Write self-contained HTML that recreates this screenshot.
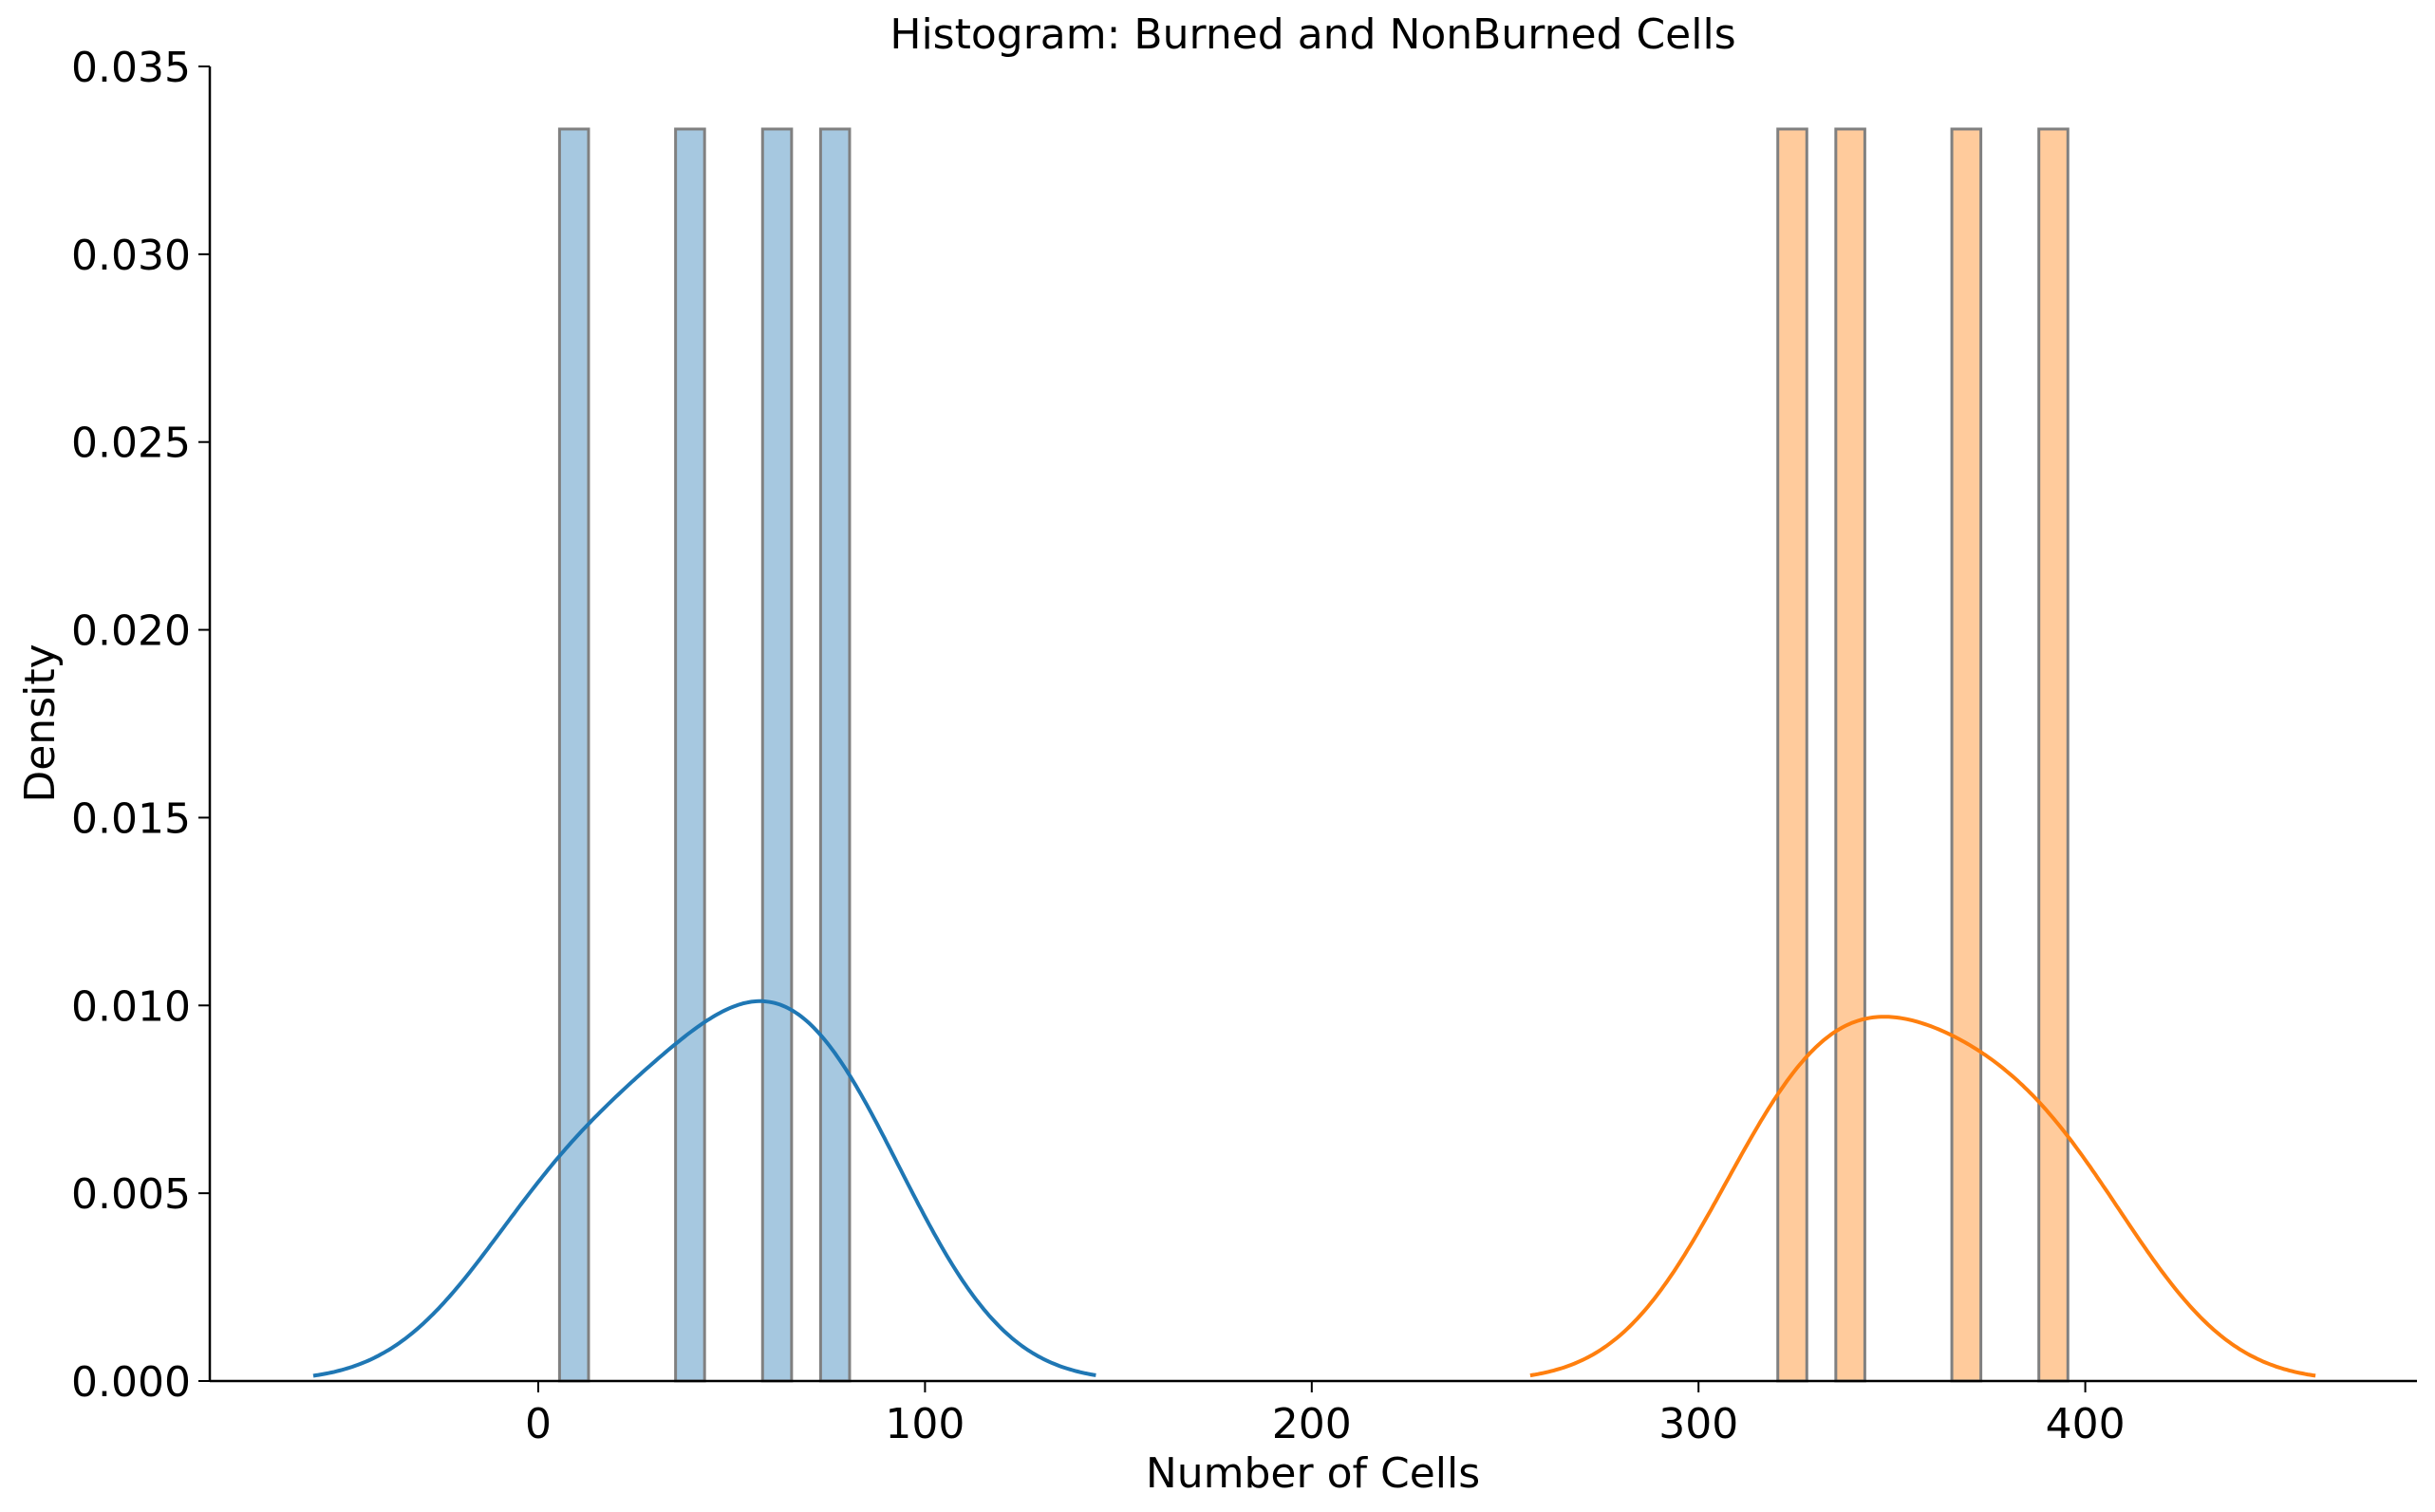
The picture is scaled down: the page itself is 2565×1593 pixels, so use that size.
<!DOCTYPE html>
<html><head><meta charset="utf-8"><style>
body{margin:0;background:#fff}
svg{display:block;font-family:"DejaVu Sans","Liberation Sans",sans-serif}
</style></head><body>
<svg id="chart" width="2565" height="1593" viewBox="0 0 2565 1593" xmlns="http://www.w3.org/2000/svg">
<rect width="2565" height="1593" fill="#fff"/>
<text x="1383" y="51" font-size="44" text-anchor="middle">Histogram: Burned and NonBurned Cells</text>
<text transform="translate(57,762) rotate(-90)" font-size="44" text-anchor="middle">Density</text>
<text x="1383" y="1567" font-size="44" text-anchor="middle">Number of Cells</text>
<g id="plot"></g>
</svg>
<script>
const burnedValues=[5.5,39,62,80.5];
const nonBurnedValues=[320.5,341,367,395.5];
const xTicks=[0,100,200,300,400];
const yTicks=[0,0.005,0.010,0.015,0.020,0.025,0.030,0.035];
const yTickLabels=["0.000","0.005","0.010","0.015","0.020","0.025","0.030","0.035"];
const NS="http://www.w3.org/2000/svg";
const L=221,R=2546,T=70,B=1455;
function sx(v){return 567+v*4.074;}
function sy(v){return B-(v/0.035)*(B-T);}
const g=document.getElementById('plot');
function mk(tag,attrs){const e=document.createElementNS(NS,tag);for(const k in attrs)e.setAttribute(k,attrs[k]);g.appendChild(e);return e;}
function drawSeries(vals,fill,line,prefix){
  const n=vals.length,mn=Math.min(...vals),mx=Math.max(...vals),nb=10,w=(mx-mn)/nb;
  const counts=new Array(nb).fill(0);
  vals.forEach(v=>{let i=Math.floor((v-mn)/w);if(i>=nb)i=nb-1;counts[i]++;});
  counts.forEach((c,i)=>{if(!c)return;const d=c/(n*w);
    const r=mk('rect',{x:sx(mn+i*w),y:sy(d),width:sx(mn+(i+1)*w)-sx(mn+i*w),height:sy(0)-sy(d),fill:fill,stroke:'#808080','stroke-width':3});
    
    
  });
  const mean=vals.reduce((a,b)=>a+b,0)/n;
  const sd=Math.sqrt(vals.reduce((a,b)=>a+(b-mean)**2,0)/(n-1));
  const bw=sd*Math.pow(n,-0.2);
  const a=mn-2.6*bw,b=mx+2.6*bw;let d='';
  for(let k=0;k<=300;k++){const x=a+(b-a)*k/300;let y=0;
    vals.forEach(v=>{y+=Math.exp(-0.5*((x-v)/bw)**2)/(bw*Math.sqrt(2*Math.PI));});y/=n;
    d+=(k?'L':'M')+sx(x).toFixed(1)+','+sy(y).toFixed(1);}
  const p=mk('path',{d:d,fill:'none',stroke:line,'stroke-width':4});
  
  
}
drawSeries(burnedValues,'#a6c8e0','#1f77b4','burned');
drawSeries(nonBurnedValues,'#ffcb9c','#ff7f0e','nonburned');
const ya=mk('line',{x1:L,y1:T,x2:L,y2:B,stroke:'#000','stroke-width':2.5});


const xa=mk('line',{x1:L,y1:B,x2:R,y2:B,stroke:'#000','stroke-width':2.5});


xTicks.forEach(v=>{
  mk('line',{x1:sx(v),y1:B,x2:sx(v),y2:B+12,stroke:'#000','stroke-width':2});
  const t=mk('text',{x:sx(v),y:B+60,'font-size':44,'text-anchor':'middle'});t.textContent=v;
  
  
});
yTicks.forEach((v,i)=>{
  mk('line',{x1:L-12,y1:sy(v),x2:L,y2:sy(v),stroke:'#000','stroke-width':2});
  const t=mk('text',{x:L-20,y:sy(v)+16,'font-size':44,'text-anchor':'end'});t.textContent=yTickLabels[i];
  
  
});
</script>
</body></html>
